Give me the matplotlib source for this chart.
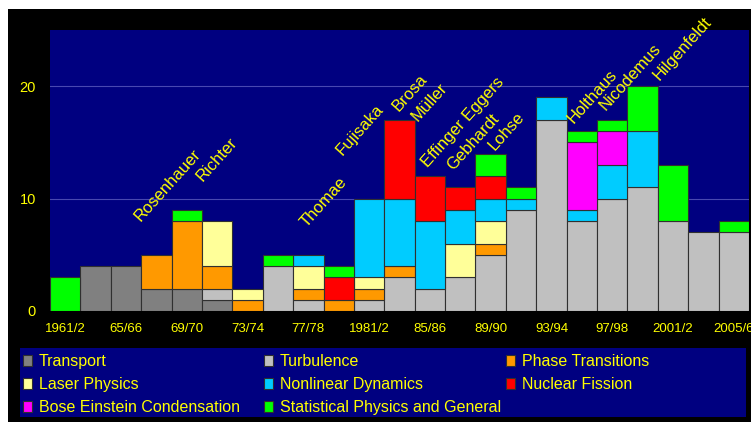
import matplotlib
matplotlib.use('Agg')
import matplotlib.pyplot as plt
from matplotlib.patches import Rectangle
import numpy as np

plt.rcParams['font.family'] = ['Liberation Sans', 'DejaVu Sans']

periods = ['1961/2', '63/64', '65/66', '67/68', '69/70', '71/72', '73/74', '75/76',
           '77/78', '79/80', '1981/2', '83/84', '85/86', '87/88', '89/90', '91/92',
           '93/94', '95/96', '97/98', '99/00', '2001/2', '03/04', '2005/6']

transport = [0, 4, 4, 2, 2, 1, 0, 0, 0, 0, 0, 0, 0, 0, 0, 0, 0, 0, 0, 0, 0, 0, 0]
turbulence = [0, 0, 0, 0, 0, 1, 0, 4, 1, 0, 1, 3, 2, 3, 5, 9, 17, 8, 10, 11, 8, 7, 7]
phase_transitions = [0, 0, 0, 3, 6, 2, 1, 0, 1, 1, 1, 1, 0, 0, 1, 0, 0, 0, 0, 0, 0, 0, 0]
laser_physics = [0, 0, 0, 0, 0, 4, 1, 0, 2, 0, 1, 0, 0, 3, 2, 0, 0, 0, 0, 0, 0, 0, 0]
nonlinear_dynamics = [0, 0, 0, 0, 0, 0, 0, 0, 1, 0, 7, 6, 6, 3, 2, 1, 2, 1, 3, 5, 0, 0, 0]
nuclear_fission = [0, 0, 0, 0, 0, 0, 0, 0, 0, 2, 0, 7, 4, 2, 2, 0, 0, 0, 0, 0, 0, 0, 0]
bose_einstein = [0, 0, 0, 0, 0, 0, 0, 0, 0, 0, 0, 0, 0, 0, 0, 0, 0, 6, 3, 0, 0, 0, 0]
statistical_general = [3, 0, 0, 0, 1, 0, 0, 1, 0, 1, 0, 0, 0, 0, 2, 1, 0, 1, 1, 4, 5, 0, 1]

series_names = ['Transport', 'Turbulence', 'Phase Transitions', 'Laser Physics',
                'Nonlinear Dynamics', 'Nuclear Fission', 'Bose Einstein Condensation',
                'Statistical Physics and General']
series_values = [transport, turbulence, phase_transitions, laser_physics,
                 nonlinear_dynamics, nuclear_fission, bose_einstein, statistical_general]
series_colors = ['#808080', '#C0C0C0', '#FF9900', '#FFFF99',
                 '#00CCFF', '#FF0000', '#FF00FF', '#00FF00']

tick_labels = ['1961/2', '65/66', '69/70', '73/74', '77/78', '1981/2',
               '85/86', '89/90', '93/94', '97/98', '2001/2', '2005/6']

names = ['Rosenhauer', 'Richter', 'Thomae', 'Fujisaka', 'Brosa', 'Müller',
         'Effinger Eggers', 'Gebhardt', 'Lohse', 'Holthaus', 'Nicodemus', 'Hilgenfeldt']
name_x = [3.38, 4.99, 8.51, 9.70, 11.34, 12.0, 13.09, 13.41, 14.53, 17.36, 18.58, 20.32]
name_y = [11.2, 13.5, 9.7, 16.1, 19.4, 18.6, 16.8, 15.0, 16.0, 19.1, 20.8, 23.35]

YELLOW = '#FFFF00'
NAVY = '#000080'
W, H = 751, 422

fig = plt.figure(figsize=(W / 100, H / 100), dpi=100, facecolor='white')
fig.patches.append(Rectangle((8 / W, 0), 1 - 8 / W, 1 - 9 / H, transform=fig.transFigure,
                             facecolor='black', edgecolor='none', zorder=-10))
fig.patches.append(Rectangle((20 / W, (H - 417) / H), 726 / W, 69 / H, transform=fig.transFigure,
                             facecolor=NAVY, edgecolor='none', zorder=-9))

ax = fig.add_axes([50 / W, (H - 311) / H, (749 - 50) / W, (311 - 30) / H])
ax.set_facecolor(NAVY)

x = np.arange(len(periods))
bottom = np.zeros(len(periods))
containers = []
for name, vals, color in zip(series_names, series_values, series_colors):
    v = np.array(vals, dtype=float)
    m = v > 0
    c = ax.bar(x[m], v[m], 1.0, bottom=bottom[m], color=color, edgecolor='#303030',
               linewidth=0.8, label=name, zorder=3)
    containers.append(c)
    bottom += v

ax.set_xlim(-0.5, len(periods) - 0.5)
ax.set_ylim(0, 25)
ax.set_yticks([0, 10, 20])
ax.set_xticks(x[::2])
ax.set_xticklabels(tick_labels)
ax.set_axisbelow(True)
ax.yaxis.grid(True, color='#4848B0', linewidth=0.8)
ax.xaxis.grid(False)
for s in ax.spines.values():
    s.set_visible(False)
ax.tick_params(axis='y', colors=YELLOW, length=0, labelsize=10.5, pad=10)
ax.tick_params(axis='x', colors=YELLOW, length=0, labelsize=9.5, pad=9)

for n, nx, ny in zip(names, name_x, name_y):
    ax.text(nx, ny, n, rotation=48, ha='center', va='center', color=YELLOW,
            fontsize=12, clip_on=False, zorder=5)

cols = [[0, 3, 6], [1, 4, 7], [2, 5]]
col_px = [23, 264, 506]
for idxs, px in zip(cols, col_px):
    leg = fig.legend([containers[i] for i in idxs], [series_names[i] for i in idxs],
                     loc='upper left', bbox_to_anchor=(px / W, 1 - 354 / H),
                     frameon=False, fontsize=11.5, labelcolor=YELLOW,
                     handlelength=0.55, handleheight=0.7, handletextpad=0.45,
                     labelspacing=0.5, borderpad=0, borderaxespad=0)

fig.savefig('out.png', dpi=100, facecolor=fig.get_facecolor())
